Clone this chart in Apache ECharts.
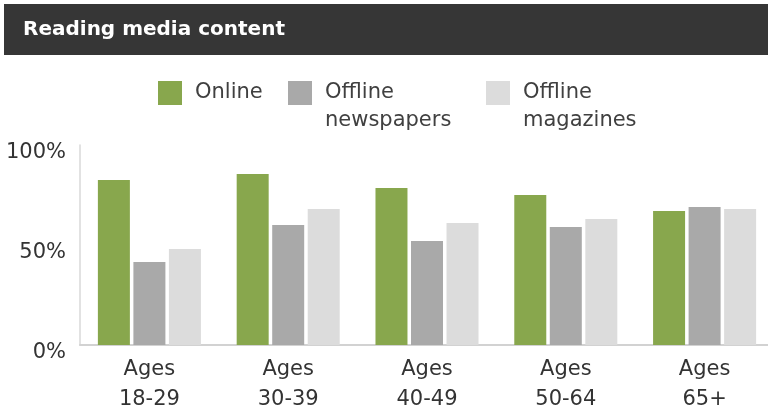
<!DOCTYPE html>
<html>
<head>
<meta charset="utf-8">
<script src="https://cdn.jsdelivr.net/npm/echarts@6/dist/echarts.min.js"></script>
<style>
html,body{margin:0;padding:0;background:#fff;}
#chart{width:768px;height:412px;}
</style>
</head>
<body>
<div id="chart"></div>
<script>
const categories = ['Ages\n18-29', 'Ages\n30-39', 'Ages\n40-49', 'Ages\n50-64', 'Ages\n65+'];
const online = [82.5, 85.5, 78.5, 75, 67];
const offlineNewspapers = [41.5, 60, 52, 59, 69];
const offlineMagazines = [48, 68, 61, 63, 68];
const seriesNames = ['Online', 'Offline\nnewspapers', 'Offline\nmagazines'];
const yTicks = [0, 50, 100];

const FONT = "'DejaVu Sans', 'Liberation Sans', Arial, sans-serif";
const colors = ['#88a74d', '#a9a9a9', '#dcdcdc'];

const chart = echarts.init(document.getElementById('chart'), null, {renderer: 'canvas'});

// square icon at top of a taller (two-line) legend item
const TALL_ICON = 'path://M0,0H24V24H0Z M0,52L0.001,52L0,52Z';

function legendFor(i, left, twoLine) {
  return {
    show: true,
    selectedMode: false,
    left: left,
    top: 79,
    padding: 0,
    orient: 'horizontal',
    icon: twoLine ? TALL_ICON : 'rect',
    itemWidth: 24,
    itemHeight: twoLine ? 52 : 24,
    data: [{name: seriesNames[i], itemStyle: {color: colors[i]}}],
    textStyle: {
      fontFamily: FONT,
      fontSize: 21,
      lineHeight: 28,
      color: '#404040',
      padding: [0, 0, 0, 8]
    }
  };
}

const option = {
  animation: false,
  backgroundColor: '#ffffff',
  title: {
    text: 'Reading media content',
    left: 23,
    top: 19,
    padding: 0,
    textStyle: {
      fontFamily: FONT,
      fontSize: 20,
      fontWeight: 'bold',
      color: '#ffffff',
      lineHeight: 22
    }
  },
  graphic: [
    {
      type: 'rect',
      z: -1,
      shape: {x: 4, y: 4, width: 764, height: 51},
      style: {fill: '#363636'}
    }
  ],
  legend: [
    legendFor(0, 158, false),
    legendFor(1, 288, true),
    legendFor(2, 486, true)
  ],
  grid: {
    left: 80,
    right: -6,
    top: 145,
    bottom: 67,
    outerBoundsMode: 'none'
  },
  xAxis: {
    type: 'category',
    data: categories,
    axisLine: {show: true, lineStyle: {color: '#d2d2d2', width: 2}},
    axisTick: {show: false},
    axisLabel: {
      fontFamily: FONT,
      fontSize: 21,
      lineHeight: 30,
      color: '#333333',
      margin: 10,
      interval: 0
    },
    splitLine: {show: false}
  },
  yAxis: {
    type: 'value',
    min: yTicks[0],
    max: yTicks[yTicks.length - 1],
    interval: 50,
    axisLine: {show: true, lineStyle: {color: '#d8d8d8', width: 1.5}},
    axisTick: {show: false},
    splitLine: {show: false},
    axisLabel: {
      fontFamily: FONT,
      fontSize: 21,
      color: '#333333',
      margin: 14,
      verticalAlign: 'top',
      lineHeight: 16,
      formatter: '{value}%'
    }
  },
  series: [
    {name: seriesNames[0], type: 'bar', data: online, barWidth: 32, barGap: '11%', itemStyle: {color: colors[0]}},
    {name: seriesNames[1], type: 'bar', data: offlineNewspapers, barWidth: 32, barGap: '11%', itemStyle: {color: colors[1]}},
    {name: seriesNames[2], type: 'bar', data: offlineMagazines, barWidth: 32, barGap: '11%', itemStyle: {color: colors[2]}}
  ]
};
chart.setOption(option);
</script>
</body>
</html>
